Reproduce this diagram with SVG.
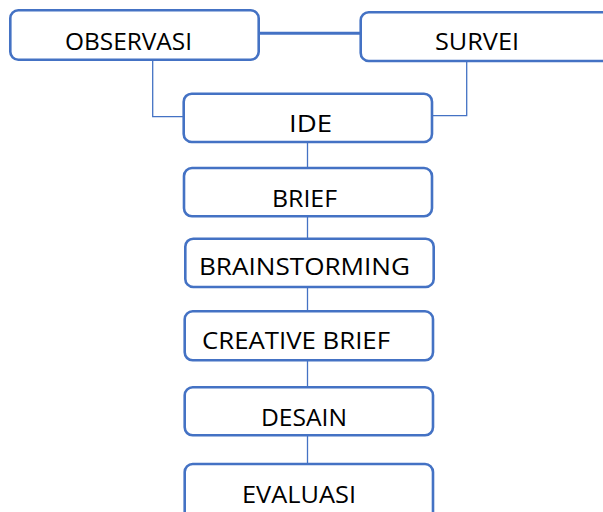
<svg xmlns="http://www.w3.org/2000/svg" width="603" height="512" viewBox="0 0 603 512">
<style>
.box{fill:#fff;stroke:#4472C4;stroke-width:2.6}
.lbl{font-family:"Open Sans","Noto Sans","Liberation Sans",sans-serif;font-size:24px;fill:#000}
.thin{fill:none;stroke:#4472C4;stroke-width:1.3}
.thick{fill:none;stroke:#4472C4;stroke-width:3}
</style>
<rect width="603" height="512" fill="#fff"/>
<g id="connectors">
<line class="thick" x1="258.7" y1="33.2" x2="360.7" y2="33.2"/>
<polyline class="thin" points="152.7,59.7 152.7,116.7 183.7,116.7"/>
<polyline class="thin" points="466.7,61 466.7,115.7 432,115.7"/>
<line class="thin" x1="307.5" y1="142" x2="307.5" y2="168"/>
<line class="thin" x1="307.5" y1="216.3" x2="307.5" y2="238.7"/>
<line class="thin" x1="307.5" y1="287" x2="307.5" y2="311.3"/>
<line class="thin" x1="307.5" y1="360.3" x2="307.5" y2="387.3"/>
<line class="thin" x1="307.5" y1="435.3" x2="307.5" y2="464"/>
</g>
<g id="observasi"><rect class="box" x="10.3" y="10.3" width="248.4" height="49.4" rx="8"/><text class="lbl" x="65" y="50" textLength="127" lengthAdjust="spacingAndGlyphs">OBSERVASI</text></g>
<g id="survei"><rect class="box" x="360.7" y="12.3" width="260" height="48.7" rx="8"/><text class="lbl" x="435" y="50" textLength="84" lengthAdjust="spacingAndGlyphs">SURVEI</text></g>
<g id="ide"><rect class="box" x="183.7" y="93.7" width="248.3" height="48.3" rx="8"/><text class="lbl" x="289" y="132" textLength="43" lengthAdjust="spacingAndGlyphs">IDE</text></g>
<g id="brief"><rect class="box" x="184" y="168" width="248" height="48.3" rx="8"/><text class="lbl" x="272" y="207" textLength="65" lengthAdjust="spacingAndGlyphs">BRIEF</text></g>
<g id="brainstorming"><rect class="box" x="185.3" y="238.7" width="248.4" height="48.3" rx="8"/><text class="lbl" x="199" y="274.5" textLength="211" lengthAdjust="spacingAndGlyphs">BRAINSTORMING</text></g>
<g id="creative-brief"><rect class="box" x="184.7" y="311.3" width="248.3" height="49" rx="8"/><text class="lbl" x="202" y="349" textLength="188" lengthAdjust="spacingAndGlyphs">CREATIVE BRIEF</text></g>
<g id="desain"><rect class="box" x="184.7" y="387.3" width="248.3" height="48" rx="8"/><text class="lbl" x="261" y="426" textLength="86" lengthAdjust="spacingAndGlyphs">DESAIN</text></g>
<g id="evaluasi"><rect class="box" x="184.7" y="464" width="248.3" height="60" rx="8"/><text class="lbl" x="242" y="503" textLength="114" lengthAdjust="spacingAndGlyphs">EVALUASI</text></g>
</svg>
